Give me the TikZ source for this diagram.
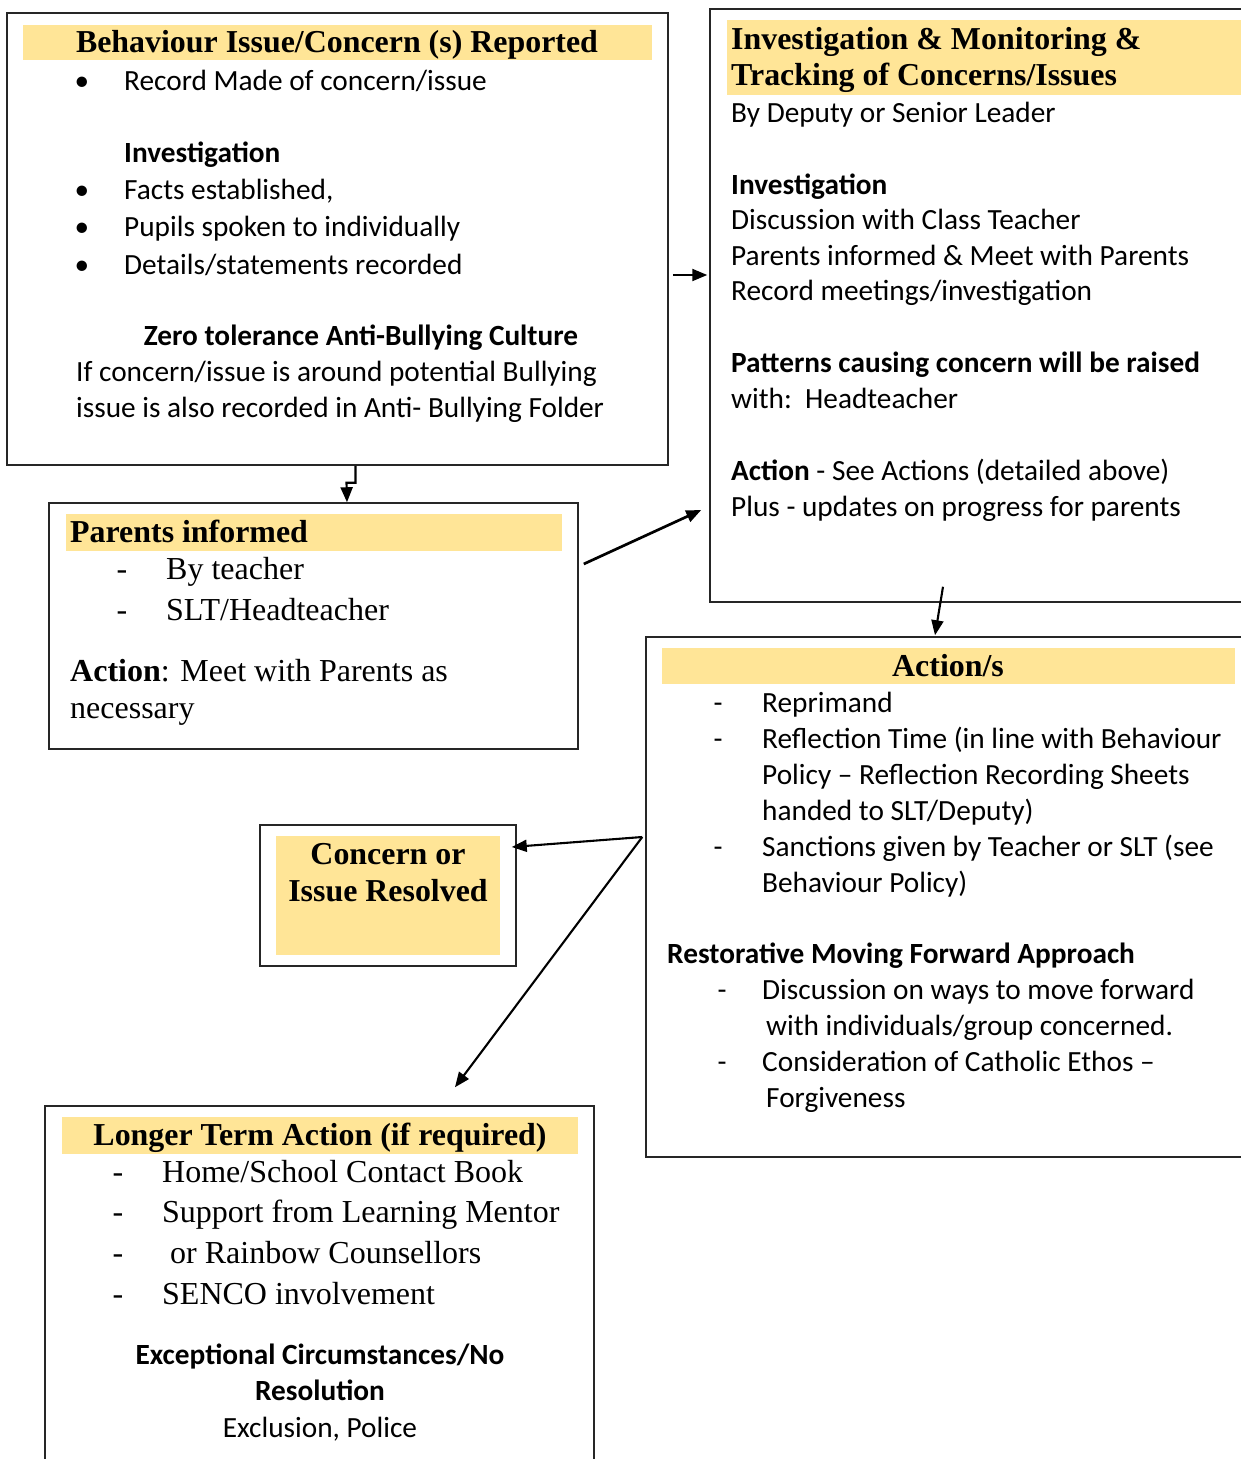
\documentclass[tikz,border=0pt]{standalone}
\usepackage{fontspec}
\setmainfont{Liberation Serif}
\newfontfamily\carl{Carlito}
\usetikzlibrary{arrows.meta,calc}
\definecolor{hdr}{HTML}{FFE597}
\begin{document}
\begin{tikzpicture}[x=1pt,y=-1pt,
  box/.style={draw=black!85,line width=1.5pt,inner sep=0pt},
  band/.style={fill=hdr,draw=none,inner sep=0pt},
  sans/.style={font=\carl\fontsize{29.3}{36}\selectfont,inner sep=0pt,anchor=mid west,yshift=-7.5pt},
  sansb/.style={font=\carl\bfseries\fontsize{29.3}{36}\selectfont,inner sep=0pt,anchor=mid west,yshift=-7.5pt},
  serif/.style={font=\fontsize{32}{38}\selectfont,inner sep=0pt,anchor=mid west,yshift=-7.5pt},
  hd/.style={font=\bfseries\fontsize{31.9}{38}\selectfont,inner sep=0pt,anchor=mid west,yshift=-7.5pt},
  arr/.style={-{Triangle[length=15pt,width=12pt]},line width=2.1pt},
  arrthick/.style={arr,line width=2.7pt}]
\useasboundingbox (0,0) rectangle (1241,1459);
\fill[white] (0,0) rectangle (1241,1459);

% ---------- Box A ----------
\node[box,minimum width=661pt,minimum height=452pt] (A) at (337.5,239) {};
\node[band,minimum width=629pt,minimum height=35pt] (Ah) at (337.5,42.5) {};
\node[hd,anchor=mid] (At) at (337,43) {Behaviour Issue/Concern (s) Reported};
\node[sans,anchor=mid] (Ab1) at (82,81) {•};
\node[sans] (A1) at (124,81) {Record Made of concern/issue};
\node[sansb] (A2) at (124,153) {Investigation};
\node[sans,anchor=mid] (Ab2) at (82,190) {•};
\node[sans] (A3) at (124,190) {Facts established,};
\node[sans,anchor=mid] (Ab3) at (82,227) {•};
\node[sans] (A4) at (124,227) {Pupils spoken to individually};
\node[sans,anchor=mid] (Ab4) at (82,265) {•};
\node[sans] (A5) at (124,265) {Details/statements recorded};
\node[sansb,anchor=mid] (A6) at (361,336) {Zero tolerance Anti-Bullying Culture};
\node[sans] (A7) at (76,372) {If concern/issue is around potential Bullying};
\node[sans] (A8) at (76,408) {issue is also recorded in Anti- Bullying Folder};

% ---------- Box B ----------
\node[box,minimum width=540pt,minimum height=593pt] (B) at (980,305.5) {};
\node[band,minimum width=520pt,minimum height=75pt] (Bh) at (987,57.5) {};
\node[hd] (Bt1) at (731,40) {Investigation \& Monitoring \&};
\node[hd] (Bt2) at (731,76) {Tracking of Concerns/Issues};
\node[sans] (B1) at (731,113) {By Deputy or Senior Leader};
\node[sansb] (B2) at (731,185) {Investigation};
\node[sans] (B3) at (731,220) {Discussion with Class Teacher};
\node[sans] (B4) at (731,256) {Parents informed \& Meet with Parents};
\node[sans] (B5) at (731,291) {Record meetings/investigation};
\node[sansb] (B6) at (731,363) {Patterns causing concern will be raised};
\node[sans] (B7) at (731,399) {with:\ \ Headteacher};
\node[sans] (B8) at (731,471) {\textbf{Action} - See Actions (detailed above)};
\node[sans] (B9) at (731,507) {Plus - updates on progress for parents};

% ---------- Box C ----------
\node[box,minimum width=529pt,minimum height=246pt] (C) at (313.5,626) {};
\node[band,minimum width=496pt,minimum height=37pt] (Ch) at (314,532.5) {};
\node[hd] (Ct) at (70,533) {Parents informed};
\node[serif,anchor=mid] (Cd1) at (122,570) {-};
\node[serif] (C1) at (166,570) {By teacher};
\node[serif,anchor=mid] (Cd2) at (122,611) {-};
\node[serif] (C2) at (166,611) {SLT/Headteacher};
\node[serif] (C3) at (70,672) {\textbf{Action}: Meet with Parents as};
\node[serif] (C4) at (70,709) {necessary};

% ---------- Box D ----------
\node[box,minimum width=604pt,minimum height=520pt] (D) at (948,897) {};
\node[band,minimum width=573pt,minimum height=36pt] (Dh) at (948.5,666) {};
\node[hd,anchor=mid] (Dt) at (948,667) {Action/s};
\node[sans,anchor=mid] (Dd1) at (718,703) {-};
\node[sans] (D1) at (762,703) {Reprimand};
\node[sans,anchor=mid] (Dd2) at (718,739) {-};
\node[sans] (D2) at (762,739) {Reflection Time (in line with Behaviour};
\node[sans] (D3) at (762,775) {Policy – Reflection Recording Sheets};
\node[sans] (D4) at (762,811) {handed to SLT/Deputy)};
\node[sans,anchor=mid] (Dd3) at (718,847) {-};
\node[sans] (D5) at (762,847) {Sanctions given by Teacher or SLT (see};
\node[sans] (D6) at (762,883) {Behaviour Policy)};
\node[sansb] (D7) at (667,954) {Restorative Moving Forward Approach};
\node[sans,anchor=mid] (Dd4) at (722,990) {-};
\node[sans] (D8) at (762,990) {Discussion on ways to move forward};
\node[sans] (D9) at (766,1026) {with individuals/group concerned.};
\node[sans,anchor=mid] (Dd5) at (722,1062) {-};
\node[sans] (D10) at (762,1062) {Consideration of Catholic Ethos –};
\node[sans] (D11) at (766,1098) {Forgiveness};

% ---------- Box E ----------
\node[box,minimum width=256pt,minimum height=141pt] (E) at (388,895.5) {};
\node[band,minimum width=224pt,minimum height=119pt] (Eh) at (388,895.5) {};
\node[hd,anchor=mid] (Et1) at (388,855) {Concern or};
\node[hd,anchor=mid] (Et2) at (388,892) {Issue Resolved};

% ---------- Box F ----------
\node[box,minimum width=549pt,minimum height=364pt] (F) at (319.5,1288) {};
\node[band,minimum width=516pt,minimum height=37pt] (Fh) at (320,1135.5) {};
\node[hd,anchor=mid] (Ft) at (320,1136) {Longer Term Action (if required)};
\node[serif,anchor=mid] (Fd1) at (118,1173) {-};
\node[serif] (F1) at (162,1173) {Home/School Contact Book};
\node[serif,anchor=mid] (Fd2) at (118,1213) {-};
\node[serif] (F2) at (162,1213) {Support from Learning Mentor};
\node[serif,anchor=mid] (Fd3) at (118,1254) {-};
\node[serif] (F3) at (170,1254) {or Rainbow Counsellors};
\node[serif,anchor=mid] (Fd4) at (118,1295) {-};
\node[serif] (F4) at (162,1295) {SENCO involvement};
\node[sansb,anchor=mid] (F5) at (320,1355) {Exceptional Circumstances/No};
\node[sansb,anchor=mid] (F6) at (320,1391) {Resolution};
\node[sans,anchor=mid] (F7) at (320,1428) {Exclusion, Police};

% ---------- Connectors ----------
\draw[arr] ($(A.south)+(18,0)$) -- ++(0,17) -- ++(-9,0) -- ($(C.north)+(33.5,0)$);
\draw[arr] ($(A.east)+(4,36)$) -- ($(B.west)+(-2,-30.5)$);
\draw[arrthick] ($(C.east)+(5,-62)$) -- ($(B.west)+(-8,204.5)$);
\draw[arr] ($(B.south)+(-37,-16)$) -- ($(D.north)+(-13,-1)$);
\coordinate (dp) at ($(D.west)+(-3,-60)$);
\draw[arr] (dp) -- ($(E.east)+(-5,-48.5)$);
\draw[arr] (dp) -- ($(F.north)+(135.5,-18)$);
\end{tikzpicture}
\end{document}
